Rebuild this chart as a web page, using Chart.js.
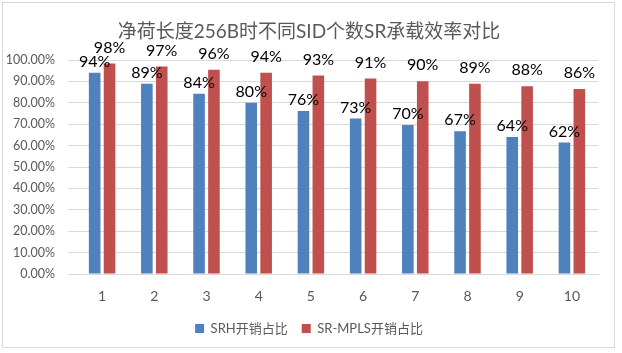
<!DOCTYPE html>
<html>
<head>
<meta charset="utf-8">
<script src="https://cdn.jsdelivr.net/npm/chart.js@4"></script>
<style>
  html, body { margin: 0; padding: 0; background: #fff; }
  canvas { display: block; }
</style>
</head>
<body>
<canvas id="myChart" width="622" height="353"></canvas>
<script>
const titleText = "净荷长度256B时不同SID个数SR承载效率对比";
const sidCounts = ["1", "2", "3", "4", "5", "6", "7", "8", "9", "10"];
const srhShare = [94.1, 88.9, 84.2, 80.0, 76.2, 72.7, 69.6, 66.7, 64.0, 61.5];
const mplsShare = [98.4, 97.0, 95.5, 94.1, 92.8, 91.4, 90.1, 88.9, 87.7, 86.4];
const seriesNames = ["SRH开销占比", "SR-MPLS开销占比"];
const yTicks = [0, 10, 20, 30, 40, 50, 60, 70, 80, 90, 100];

const fontStack = "Lato, 'Noto Sans CJK SC', sans-serif";
const grey = "#595959";

// outer border + title, like the office chart frame
const frame = {
  id: "frame",
  beforeDraw(chart) {
    const ctx = chart.ctx;
    ctx.save();
    ctx.fillStyle = "#fff";
    ctx.fillRect(0, 0, chart.width, chart.height);
    ctx.strokeStyle = "#d9d9d9";
    ctx.lineWidth = 1;
    ctx.strokeRect(2.5, 2.5, 612, 345);
    ctx.font = "19px " + fontStack;
    ctx.fillStyle = grey;
    ctx.textAlign = "center";
    ctx.textBaseline = "middle";
    ctx.fillText(titleText, 309, 32);
    ctx.restore();
  },
  afterLayout(chart) {
    // legend sits centred on the whole frame, not the plot
    chart.legend.left += 10;
    chart.legend.right += 10;
  },
};

// value labels above bars
const barLabels = {
  id: "barLabels",
  afterDatasetsDraw(chart) {
    const ctx = chart.ctx;
    const lift = [3, 8];
    ctx.save();
    ctx.font = "16px " + fontStack;
    ctx.fillStyle = "#000";
    ctx.textAlign = "center";
    ctx.textBaseline = "bottom";
    chart.data.datasets.forEach((ds, i) => {
      chart.getDatasetMeta(i).data.forEach((bar, j) => {
        ctx.fillText(Math.round(ds.data[j]) + "%", bar.x, bar.y - lift[i]);
      });
    });
    ctx.restore();
  },
};

const ctx = document.getElementById("myChart").getContext("2d");
const myChart = new Chart(ctx, {
  type: "bar",
  data: {
    labels: sidCounts,
    datasets: [
      {
        label: seriesNames[0],
        data: srhShare,
        backgroundColor: "#4F81BD",
      },
      {
        label: seriesNames[1],
        data: mplsShare,
        backgroundColor: "#C0504D",
      },
    ],
  },
  options: {
    responsive: false,
    animation: false,
    devicePixelRatio: 1,
    categoryPercentage: 0.57,
    barPercentage: 0.78,
    layout: { padding: { left: 0, right: 24, top: 60, bottom: 8 } },
    plugins: {
      title: { display: false },
      legend: {
        position: "bottom",
        labels: {
          color: grey,
          font: { family: fontStack, size: 13 },
          boxWidth: 9,
          boxHeight: 9,
          padding: 14,
        },
      },
      tooltip: { enabled: false },
    },
    scales: {
      x: {
        grid: { display: false },
        border: { color: "#d9d9d9" },
        ticks: { color: grey, font: { family: fontStack, size: 14 }, padding: 6.5 },
        afterFit: (s) => { s.height = 34; },
      },
      y: {
        min: 0,
        max: 100,
        grid: { color: "#d9d9d9" },
        border: { display: false },
        afterBuildTicks: (s) => { s.ticks = yTicks.map((v) => ({ value: v })); },
        afterFit: (s) => { s.width = 76; },
        ticks: {
          color: grey,
          font: { family: fontStack, size: 12.5 },
          padding: 13,
          callback: (v) => v.toFixed(2) + "%",
        },
      },
    },
  },
  plugins: [frame, barLabels],
});
</script>
</body>
</html>
